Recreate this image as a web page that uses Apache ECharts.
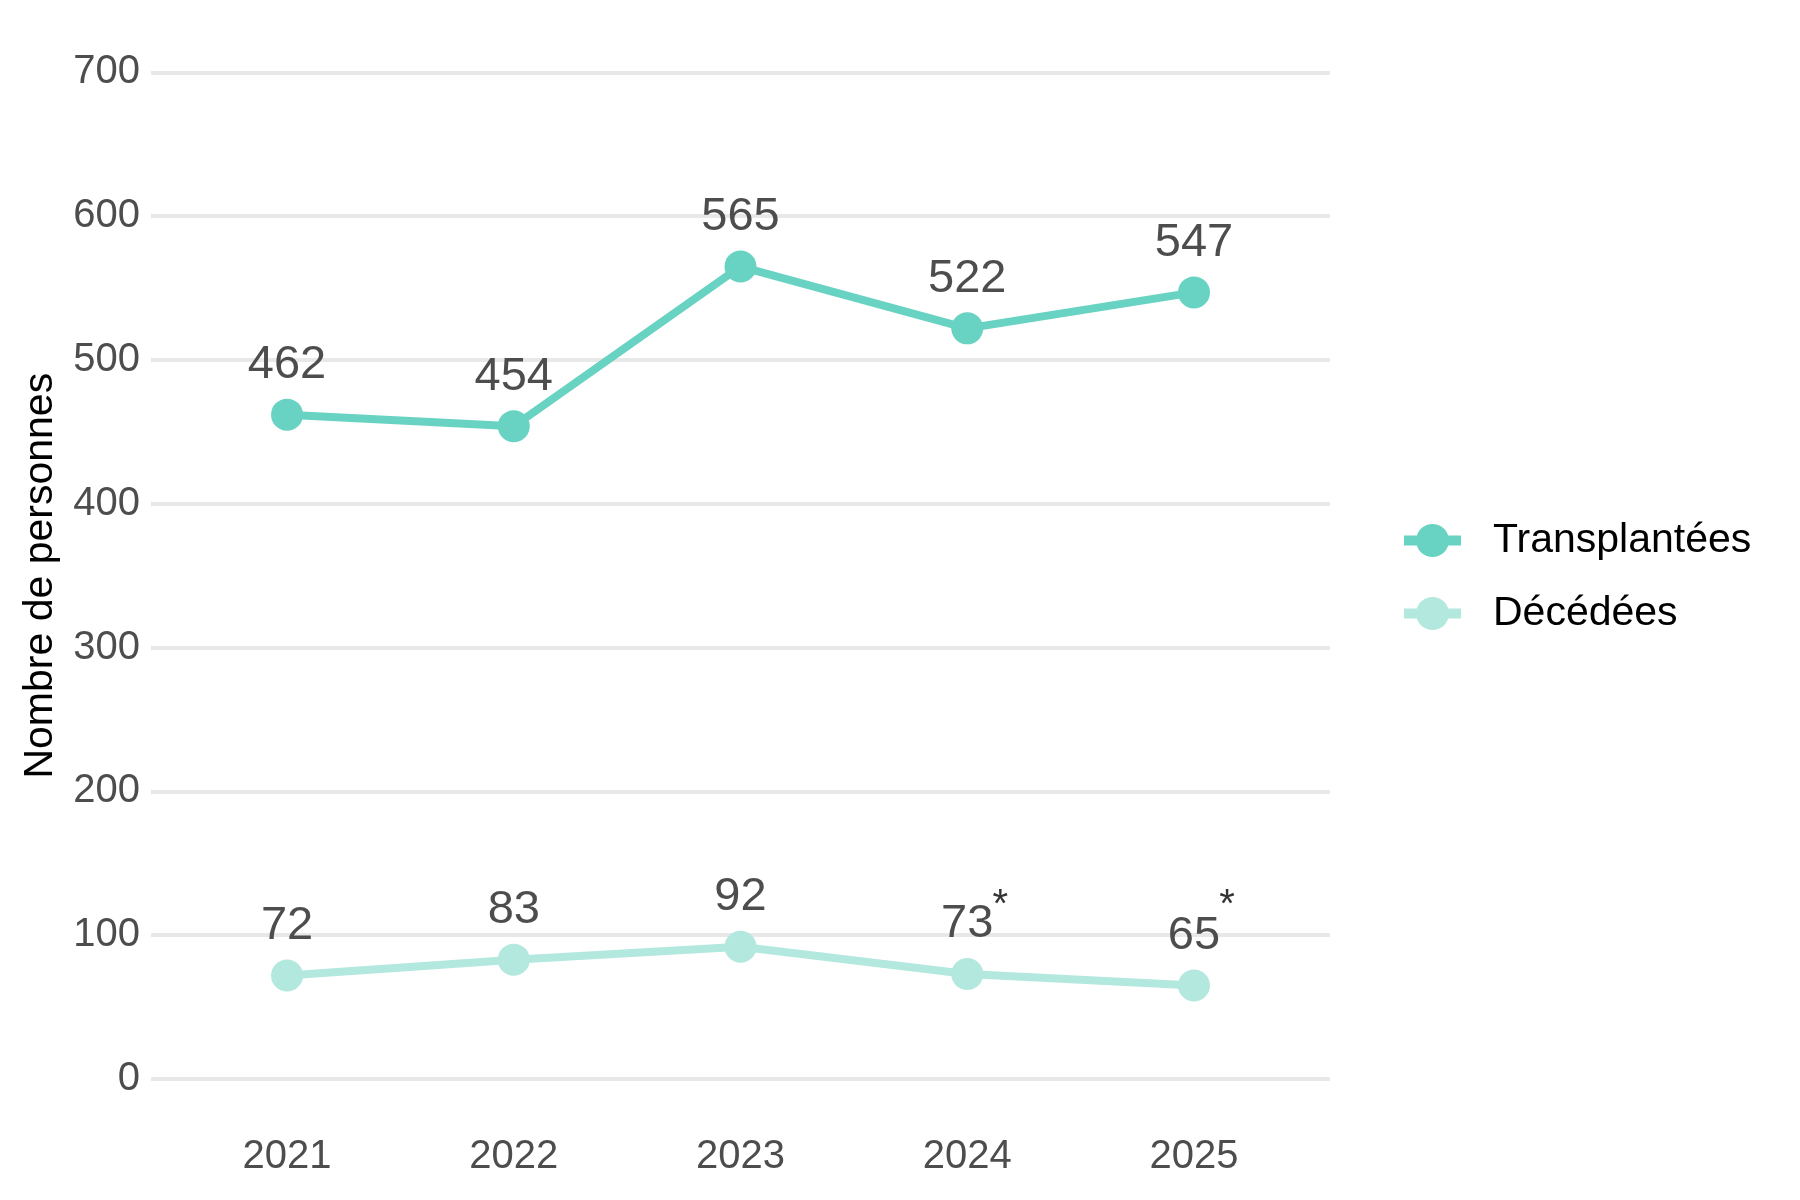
<!DOCTYPE html>
<html>
<head>
<meta charset="utf-8">
<script src="https://cdn.jsdelivr.net/npm/echarts@6/dist/echarts.min.js"></script>
<style>
html,body{margin:0;padding:0;background:#fff;}
#chart{width:1800px;height:1200px;}
</style>
</head>
<body>
<div id="chart"></div>
<script>
// ---- data ----
const years = [2021, 2022, 2023, 2024, 2025];
const transplantees = [462, 454, 565, 522, 547];
const decedees = [72, 83, 92, 73, 65];
const yTicks = [0, 100, 200, 300, 400, 500, 600, 700];
const provisionalYears = [2024, 2025];   // years marked with "*"
const seriesNames = ['Transplantées', 'Décédées'];
const yTitle = 'Nombre de personnes';

const FONT = '"Liberation Sans", Arial, sans-serif';
const colT = '#68D3C2';
const colD = '#B3E8DF';

// legend glyph: thick line with a circle in the middle
const legendIcon = 'path://M0,11.5 L57,11.5 L57,21.5 L0,21.5 Z ' +
  'M28.5,0 A16.5,16.5 0 1 1 28.5,33 A16.5,16.5 0 1 1 28.5,0 Z';

const chart = echarts.init(document.getElementById('chart'), null, {renderer: 'canvas'});

function pairs(vals) { return years.map((y, i) => [y, vals[i]]); }

const labelStyle = {
  show: true, position: 'top', distance: 10,
  fontFamily: FONT, fontSize: 47, color: '#4D4D4D'
};

chart.setOption({
  animation: false,
  backgroundColor: '#ffffff',
  grid: {left: 151, right: 470, top: 72.4, bottom: 121, containLabel: false},
  xAxis: {
    type: 'value', min: 2020.4, max: 2025.6,
    axisLine: {show: false}, axisTick: {show: false}, splitLine: {show: false},
    axisLabel: {
      customValues: years, margin: 58,
      fontFamily: FONT, fontSize: 40, color: '#4D4D4D',
      formatter: v => String(v)
    }
  },
  yAxis: {
    type: 'value', min: 0, max: 700, interval: 100,
    name: yTitle, nameLocation: 'middle', nameRotate: 90, nameGap: 90,
    nameTextStyle: {fontFamily: FONT, fontSize: 41, color: '#000000'},
    axisLine: {show: false}, axisTick: {show: false},
    axisLabel: {margin: 11, fontFamily: FONT, fontSize: 40, color: '#4D4D4D',
      customValues: yTicks},
    splitLine: {show: true, lineStyle: {color: '#E8E8E8', width: 4}}
  },
  legend: {
    orient: 'vertical', left: 1399, top: 515,
    itemWidth: 57, itemHeight: 33, itemGap: 32,
    textStyle: {fontFamily: FONT, fontSize: 41, color: '#000000', padding: [0, 0, 0, 27]},
    data: seriesNames.map(n => ({name: n, icon: legendIcon}))
  },
  series: [
    {
      name: seriesNames[0], type: 'line', data: pairs(transplantees),
      symbol: 'circle', symbolSize: 32,
      lineStyle: {color: colT, width: 8}, itemStyle: {color: colT},
      label: labelStyle, z: 3
    },
    {
      name: seriesNames[1], type: 'line', data: pairs(decedees),
      symbol: 'circle', symbolSize: 32,
      lineStyle: {color: colD, width: 8}, itemStyle: {color: colD},
      label: labelStyle, z: 3
    },
    {
      name: 'note', type: 'scatter', symbolSize: 0,
      data: provisionalYears.map(y => [y, 125]),
      label: {show: true, position: 'inside', offset: [33, 7], formatter: '*',
        fontFamily: FONT, fontSize: 40, color: '#000000'},
      silent: true, z: 4
    }
  ]
});
</script>
</body>
</html>
